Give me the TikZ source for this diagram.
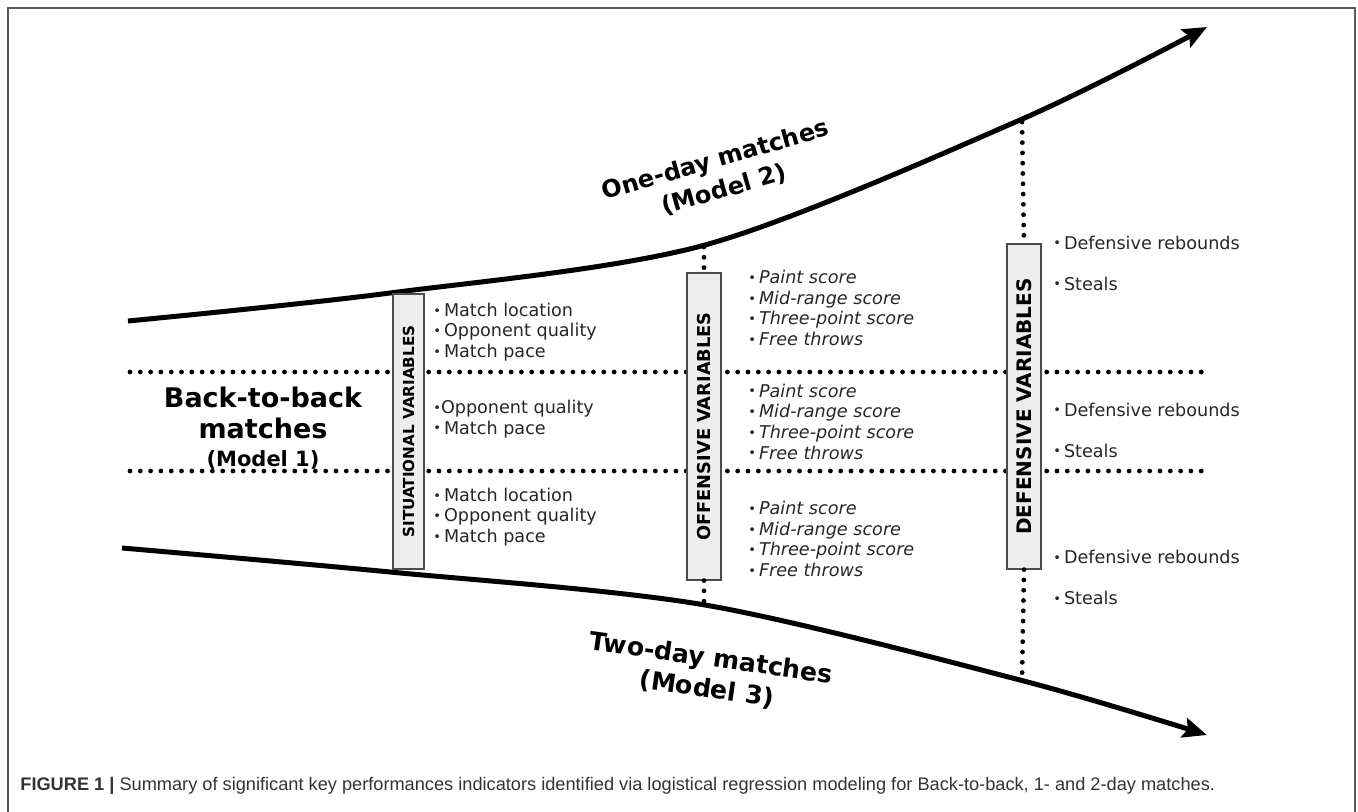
\documentclass[tikz,border=0pt]{standalone}
\usepackage{fontspec}
\setmainfont{DejaVu Sans}
\newfontfamily\capfont{Liberation Sans}
\usetikzlibrary{arrows.meta,positioning,calc}
\newcommand{\itm}{{\fontsize{6.5}{6.5}\selectfont\raisebox{0.6pt}{•}}\,}

\begin{document}
\begin{tikzpicture}[x=0.5pt,y=-0.5pt]
	\tikzstyle{varbox}=[draw=black!70, fill=black!7, line width=0.6pt, rotate=90, inner sep=0pt, font=\bfseries\fontsize{7.6}{8}\selectfont]
	\tikzstyle{dotline}=[line width=2.4pt, line cap=round, dash pattern=on 0pt off 5.15pt]
	\tikzstyle{trend}=[line width=2.5pt, -{Stealth[length=12pt,width=10pt,inset=2pt]}]
	\tikzstyle{items}=[anchor=west, align=left, inner sep=0pt, text=black!85, font=\fontsize{8.8}{10.25}\selectfont]
	\tikzstyle{model}=[align=center, inner sep=0pt, font=\bfseries\fontsize{12}{15.5}\selectfont]

	\useasboundingbox (0,0) rectangle (1358,812);
	\draw[black!65, line width=1pt] (8,820) |- (1355,8) -- (1355,820);

	% the two trends
	\draw[trend] plot[smooth] coordinates {(128,321) (390,293) (705,245) (1020,120) (1207,27)};
	\draw[trend] plot[smooth] coordinates {(122,548) (390,572) (705,605) (1020,680) (1207,735)};

	% rows
	\coordinate (l1) at (130,372);
	\coordinate (r1) at (1202,372);
	\coordinate (l2) at (130,471);
	\coordinate (r2) at (1202,471);
	\draw[dotline] (l1) -- (r1);
	\draw[dotline] (l2) -- (r2);

	% variable boxes
	\node[varbox, minimum width=137.5pt, minimum height=15.5pt] (sit) at (408.5,431.5) {SITUATIONAL VARIABLES};
	\node[varbox, minimum width=153.5pt, minimum height=17pt, font=\bfseries\fontsize{8.9}{9}\selectfont] (off) at (704,426.5) {OFFENSIVE VARIABLES};
	\node[varbox, minimum width=162.5pt, minimum height=17pt, font=\bfseries\fontsize{10}{10}\selectfont] (def) at (1024,406.5) {DEFENSIVE VARIABLES};

	\coordinate (offtop) at (704,247);
	\coordinate (offbot) at (704,604);
	\coordinate (deftop) at (1022,122);
	\coordinate (defbot) at (1022,680);
	\draw[dotline] (offtop) -- (off.east);
	\draw[dotline] (off.west) -- (offbot);
	\draw[dotline] (deftop) -- (def.east);
	\draw[dotline] (def.west) -- (defbot);

	% situational
	\node[items] (sit1) at (433,332) {\itm Match location\\\itm Opponent quality\\\itm Match pace};
	\node[items] (sit2) at (433,419) {\itm\kern-1.5pt Opponent quality\\\itm Match pace};
	\node[items] (sit3) at (433,517) {\itm Match location\\\itm Opponent quality\\\itm Match pace};

	% offensive
	\node[items, font=\itshape\fontsize{8.8}{10.35}\selectfont] (off1) at (748,308) {\itm Paint score\\\itm Mid-range score\\\itm Three-point score\\\itm Free throws};
	\node[items, font=\itshape\fontsize{8.8}{10.35}\selectfont] (off2) at (748,421.5) {\itm Paint score\\\itm Mid-range score\\\itm Three-point score\\\itm Free throws};
	\node[items, font=\itshape\fontsize{8.8}{10.35}\selectfont] (off3) at (748,539) {\itm Paint score\\\itm Mid-range score\\\itm Three-point score\\\itm Free throws};

	% defensive
	\node[items, font=\fontsize{8.8}{20.5}\selectfont] (def1) at (1053,263) {\itm Defensive rebounds\\\itm Steals};
	\node[items, font=\fontsize{8.8}{20.5}\selectfont] (def2) at (1053,430) {\itm Defensive rebounds\\\itm Steals};
	\node[items, font=\fontsize{8.8}{20.5}\selectfont] (def3) at (1053,577.5) {\itm Defensive rebounds\\\itm Steals};

	% models
	\node[model, font=\bfseries\fontsize{13.5}{15.5}\selectfont] (bb) at (263,428.5) {Back-to-back\\matches\\[-1.5pt]{\fontsize{10.5}{12}\selectfont(Model 1)}};
	\node[model, rotate=16] (one) at (720,175) {One-day matches\\(Model 2)};
	\node[model, rotate=-8, font=\bfseries\fontsize{12.6}{15.5}\selectfont] (two) at (709,674) {Two-day matches\\(Model 3)};

	% caption
	\node[anchor=west, inner sep=0pt, text=black!80, font=\capfont\fontsize{9.1}{10}\selectfont] (cap) at (20,786) {\textbf{FIGURE 1 |} Summary of significant key performances indicators identified via logistical regression modeling for Back-to-back, 1- and 2-day matches.};
\end{tikzpicture}
\end{document}
